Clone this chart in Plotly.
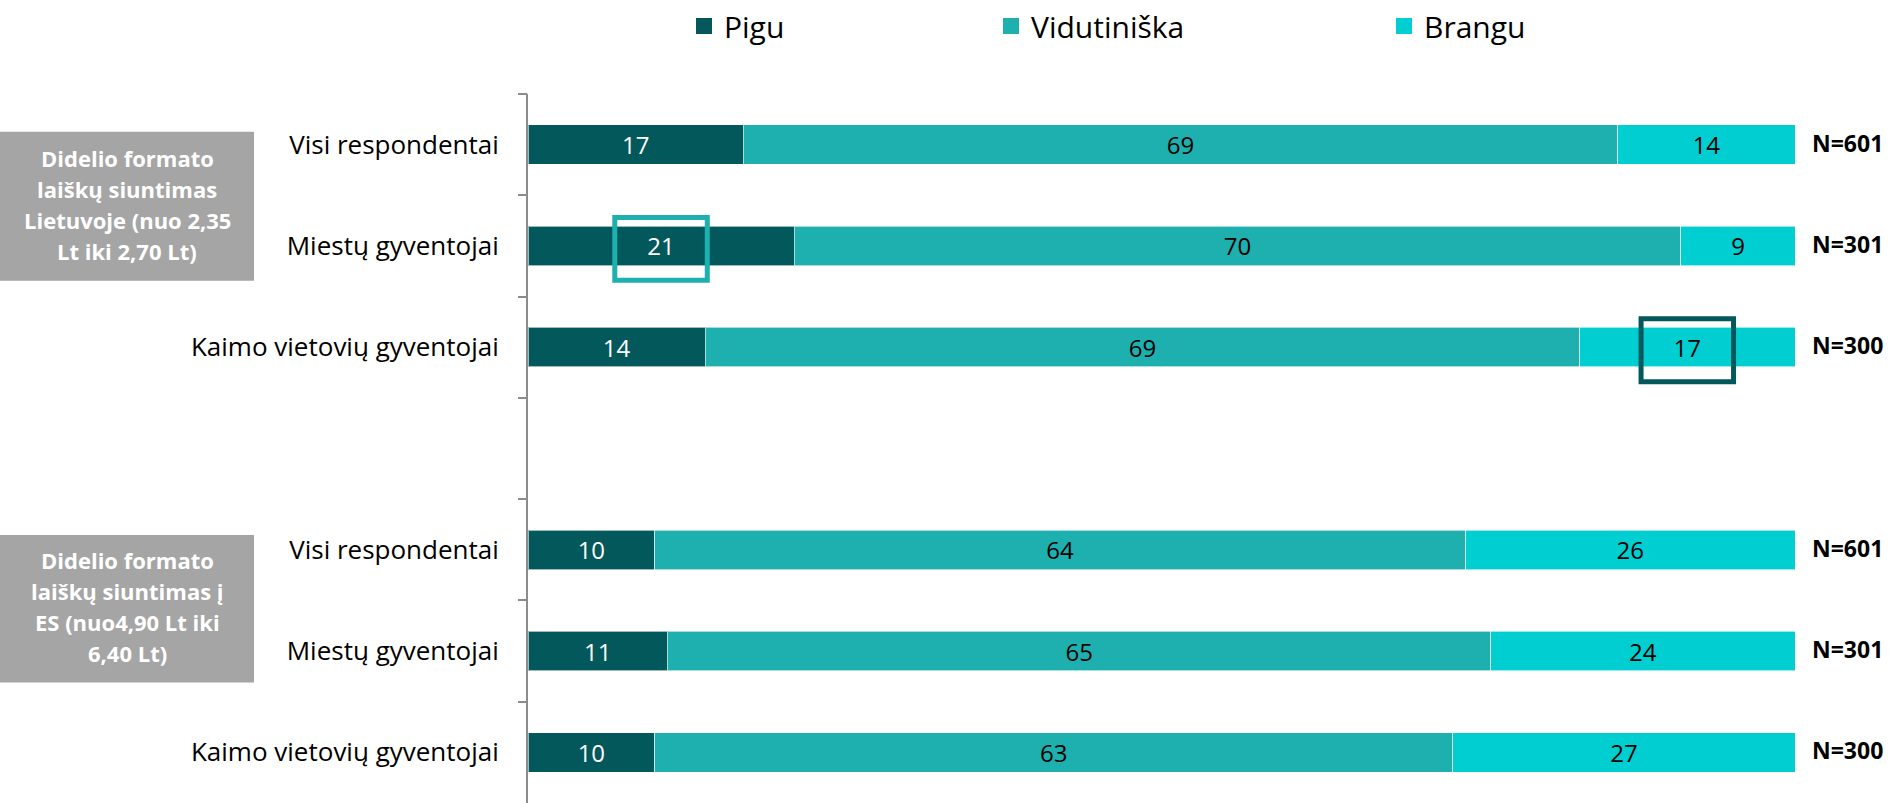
import plotly.graph_objects as go

# ---------------- data ----------------
row_labels = ["Visi respondentai", "Miestų gyventojai", "Kaimo vietovių gyventojai", "",
              "Visi respondentai", "Miestų gyventojai", "Kaimo vietovių gyventojai"]
pigu = [17, 21, 14, None, 10, 11, 10]
vidutiniska = [69, 70, 69, None, 64, 65, 63]
brangu = [14, 9, 17, None, 26, 24, 27]
n_labels = ["N=601", "N=301", "N=300", "", "N=601", "N=301", "N=300"]
series_names = ["Pigu", "Vidutiniška", "Brangu"]
group_titles = [
    ["Didelio formato", "laiškų siuntimas", "Lietuvoje (nuo 2,35", "Lt iki 2,70 Lt)"],
    ["Didelio formato", "laiškų siuntimas į", "ES (nuo4,90 Lt iki", "6,40 Lt)"],
]
# highlighted cells: (row index, series index)
highlights = [(1, 0), (2, 2)]

# ---------------- styles ----------------
W, H = 1897, 803
ML, MR, MT, MB = 528, 102, 89, 0
PW = W - ML - MR
PH = H - MT - MB
FONT = "Open Sans"
colors = ["#03585C", "#1DB0AE", "#00CED1"]
text_colors = ["white", "black", "black"]
hl_colors = ["#1DB0AE", "#03585C"]
axis_gray = "#8C8C8C"
box_gray = "#A5A5A5"

ypos = list(range(len(row_labels)))
series_vals = [pigu, vidutiniska, brangu]


def px_to_paper_x(px):
    return (px - ML) / PW


def px_to_paper_y(py):
    return 1 - (py - MT) / PH


fig = go.Figure()
legend_ids = ["legend", "legend2", "legend3"]
for i, (name, vals) in enumerate(zip(series_names, series_vals)):
    fig.add_trace(go.Bar(
        name=name,
        orientation="h",
        y=ypos,
        x=vals,
        width=0.39,
        marker=dict(color=colors[i], line=dict(color="rgba(255,255,255,0.6)", width=1)),
        text=["" if v is None else str(v) for v in vals],
        textposition="inside",
        insidetextanchor="middle",
        constraintext="none",
        textfont=dict(family=FONT, size=24, color=text_colors[i]),
        hoverinfo="skip",
        showlegend=False,
    ))
    # legend entry (square swatch)
    fig.add_trace(go.Scatter(
        name=name, x=[None], y=[None], mode="markers",
        marker=dict(symbol="square", size=17, color=colors[i]),
        legend=legend_ids[i], hoverinfo="skip",
    ))

# invisible trace to carry the boundary-tick axis
fig.add_trace(go.Scatter(x=[0], y=[0], yaxis="y2", mode="markers",
                         marker=dict(opacity=0), showlegend=False, hoverinfo="skip"))

legend_left_px = [684, 991, 1384]
for lid, lx in zip(legend_ids, legend_left_px):
    fig.update_layout({lid: dict(
        orientation="h", x=px_to_paper_x(lx), xanchor="left",
        y=px_to_paper_y(20), yanchor="middle",
        font=dict(family=FONT, size=30, color="black"),
        bgcolor="rgba(0,0,0,0)",
    )})

# N labels
for yi, t in zip(ypos, n_labels):
    if t:
        fig.add_annotation(x=px_to_paper_x(1810), xref="paper", xanchor="left",
                           y=yi, yref="y", yshift=2, text=f"<b>{t}</b>", showarrow=False,
                           font=dict(family=FONT, size=23, color="black"))

# group title boxes (top, bottom in row units of the reversed axis)
BOX_L, BOX_R = 0, 254
group_box_rows = [(-0.127, 1.343), (3.853, 5.31)]
line_gap = 31
for lines, (yt, yb) in zip(group_titles, group_box_rows):
    fig.add_shape(type="rect", xref="paper", yref="y",
                  x0=px_to_paper_x(BOX_L), x1=px_to_paper_x(BOX_R), y0=yt, y1=yb,
                  fillcolor=box_gray, line=dict(width=0), layer="above")
    cy = (yb + yt) / 2
    n = len(lines)
    for k, ln in enumerate(lines):
        fig.add_annotation(x=px_to_paper_x((BOX_L + BOX_R) / 2), xref="paper", xanchor="center",
                           y=cy, yref="y", yanchor="middle",
                           yshift=-(k - (n - 1) / 2) * line_gap + 2,
                           text=f"<b>{ln}</b>", showarrow=False,
                           font=dict(family=FONT, size=22, color="white"))

# highlight boxes around selected values
for (ri, si), hc in zip(highlights, hl_colors):
    left = sum(series_vals[k][ri] for k in range(si))
    cx = left + series_vals[si][ri] / 2
    fig.add_shape(type="rect", xref="x", yref="y",
                  x0=cx - 3.65, x1=cx + 3.65, y0=ri - 0.28, y1=ri + 0.34,
                  line=dict(color=hc, width=5), fillcolor="rgba(0,0,0,0)")

fig.update_layout(
    width=W, height=H,
    margin=dict(l=ML, r=MR, t=MT, b=MB),
    barmode="stack",
    plot_bgcolor="white", paper_bgcolor="white",
    xaxis=dict(range=[0, 100], visible=False, fixedrange=True),
    yaxis=dict(range=[6.5, -0.5], tickmode="array", tickvals=ypos, ticktext=row_labels,
               ticks="", showline=True, linecolor=axis_gray, linewidth=2,
               showgrid=False, zeroline=False, ticklabelstandoff=22,
               tickfont=dict(family=FONT, size=26, color="black")),
    yaxis2=dict(range=[6.5, -0.5], overlaying="y", side="left",
                tickmode="array", tickvals=[v - 0.5 for v in ypos],
                ticks="outside", ticklen=9, tickwidth=2, tickcolor=axis_gray,
                showticklabels=False, showgrid=False, zeroline=False, showline=False),
    font=dict(family=FONT),
)

fig.write_html("out.html", config={"displayModeBar": False},
               post_script="document.body.style.margin='0';")
